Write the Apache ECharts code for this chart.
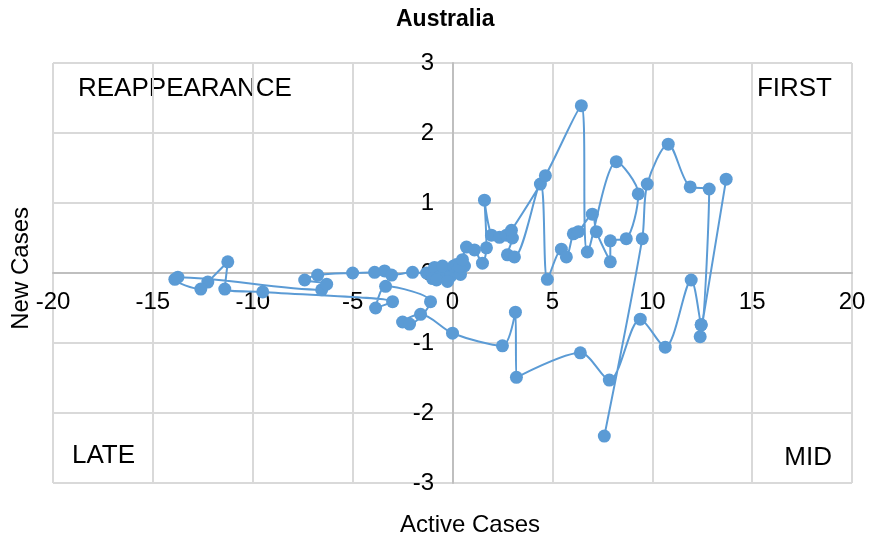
<!DOCTYPE html>
<html>
<head>
<meta charset="utf-8">
<title>Australia</title>
<script src="https://cdn.jsdelivr.net/npm/echarts@6/dist/echarts.min.js"></script>
<style>
  html, body { margin: 0; padding: 0; background: #fff; }
  #chart { width: 872px; height: 545px; }
</style>
</head>
<body>
<div id="chart"></div>
<script>
// axis ticks
const xTicks = [-20, -15, -10, -5, 0, 5, 10, 15, 20];
const yTicks = [-3, -2, -1, 0, 1, 2, 3];

// main trajectory (active cases, new cases), in drawing order
const activeMain = [
  7.6, 9.5, 9.75, 10.8, 11.9, 12.85, 12.45, 11.95, 10.65, 9.4,
  7.85, 6.4, 3.2, 3.15, 2.5, 0.0, -1.6, -2.5, -2.15, -1.1,
  -3.35, -3.85, -3.0, -9.5, -11.4, -11.25, -12.25, -12.6, -13.9, -13.75,
  -6.55, -6.3, -7.4, -6.75, -5.0, -3.9, -3.4, -3.05, -2.0, -1.3,
  -0.9, -1.0, -0.6, -0.8, -0.3, -0.5, -0.1, 0.1, -0.25, 0.3,
  0.05, 0.4, 0.2, 0.6, 0.35, 0.5, 0.7, 1.1, 1.5, 1.7,
  1.6, 1.95, 2.35, 2.7, 3.0, 2.75, 3.1, 4.4, 4.75, 5.45,
  5.7, 6.05, 6.3, 7.0, 7.2, 7.9, 7.9, 8.7, 9.3, 8.2,
  6.75, 6.45, 4.65, 2.95
];
const newMain = [
  -2.33, 0.49, 1.27, 1.84, 1.23, 1.2, -0.74, -0.1, -1.06, -0.66,
  -1.53, -1.14, -1.49, -0.56, -1.04, -0.86, -0.59, -0.7, -0.73, -0.41,
  -0.19, -0.5, -0.41, -0.27, -0.23, 0.16, -0.13, -0.23, -0.09, -0.06,
  -0.24, -0.16, -0.1, -0.03, 0.0, 0.01, 0.03, -0.03, 0.01, 0.0,
  0.08, -0.08, -0.04, -0.1, 0.05, 0.1, -0.05, 0.02, -0.12, 0.06,
  0.1, -0.02, 0.12, 0.1, 0.09, 0.19, 0.37, 0.33, 0.14, 0.36,
  1.04, 0.54, 0.51, 0.54, 0.5, 0.26, 0.23, 1.27, -0.09, 0.34,
  0.23, 0.56, 0.59, 0.84, 0.59, 0.16, 0.46, 0.49, 1.13, 1.59,
  0.3, 2.39, 1.39, 0.61
];

// short separate stroke on the right
const activeTail = [13.7, 12.4, 12.45];
const newTail = [1.34, -0.91, -0.74];

const blue = '#5B9BD5';
const pairs = (xs, ys) => xs.map((x, i) => [x, ys[i]]);

function pathSeries(name, xs, ys) {
  return {
    name: name,
    type: 'line',
    data: pairs(xs, ys),
    smooth: 0.3,
    symbol: 'circle',
    symbolSize: 13,
    itemStyle: { color: blue },
    lineStyle: { color: blue, width: 2 },
    animation: false
  };
}

const chart = echarts.init(document.getElementById('chart'));
chart.setOption({
  backgroundColor: '#FFFFFF',
  title: {
    text: 'Australia',
    left: 391,
    top: 3,
    textStyle: { fontFamily: 'Liberation Sans', fontSize: 23, fontWeight: 'bold', color: '#000' }
  },
  grid: { left: 53, right: 20, top: 63, bottom: 62 },
  xAxis: {
    type: 'value',
    min: xTicks[0],
    max: xTicks[xTicks.length - 1],
    interval: 5,
    // axis drawn through y = 0 (210 px above the bottom of the plot)
    offset: -210,
    axisLine: { onZero: false, lineStyle: { color: '#BFBFBF', width: 2 } },
    axisTick: { show: false },
    axisLabel: { margin: 17, fontFamily: 'Liberation Sans', fontSize: 24, color: '#000' },
    splitLine: { show: true, lineStyle: { color: '#D9D9D9', width: 2 } }
  },
  yAxis: {
    type: 'value',
    min: yTicks[0],
    max: yTicks[yTicks.length - 1],
    interval: 1,
    // axis drawn through x = 0 (400 px right of the plot's left edge)
    offset: -400,
    axisLine: { onZero: false, lineStyle: { color: '#BFBFBF', width: 2 } },
    axisTick: { show: false },
    axisLabel: { margin: 19, fontFamily: 'Liberation Sans', fontSize: 24, color: '#000' },
    splitLine: { show: true, lineStyle: { color: '#D9D9D9', width: 2 } }
  },
  graphic: [
    { type: 'text', left: 78, top: 76, style: { text: 'REAPPEARANCE', font: '26px "Liberation Sans"', fill: '#000' } },
    { type: 'text', right: 40, top: 76, style: { text: 'FIRST', font: '26px "Liberation Sans"', fill: '#000' } },
    { type: 'text', left: 72, top: 443, style: { text: 'LATE', font: '26px "Liberation Sans"', fill: '#000' } },
    { type: 'text', right: 40, top: 445, style: { text: 'MID', font: '26px "Liberation Sans"', fill: '#000' } },
    { type: 'text', left: 400, top: 513, style: { text: 'Active Cases', font: '24px "Liberation Sans"', fill: '#000' } },
    { type: 'text', left: 9, top: 207, rotation: Math.PI / 2, style: { text: 'New Cases', font: '24px "Liberation Sans"', fill: '#000' } }
  ],
  series: [
    pathSeries('Australia', activeMain, newMain),
    pathSeries('Australia tail', activeTail, newTail)
  ]
});
</script>
</body>
</html>
